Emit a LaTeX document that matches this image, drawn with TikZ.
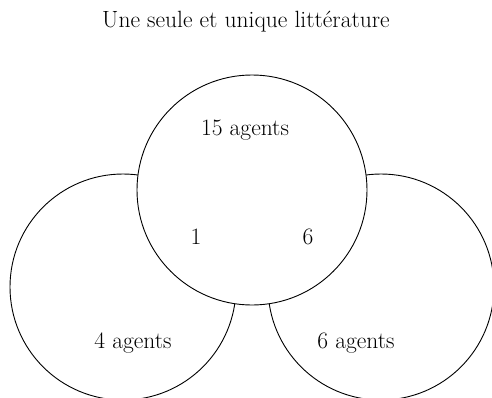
\documentclass[tikz,border=0pt]{standalone}
\usepackage{tikz}
\begin{document}
\begin{tikzpicture}[x=1pt,y=-1pt,
  ring/.style={circle,draw=black,line width=0.9pt,inner sep=0pt,fill=white},
  lab/.style={font=\fontsize{23.5}{28}\selectfont,inner sep=0pt}]
\useasboundingbox (0,0) rectangle (492,397);
\clip (0,0) rectangle (492,397);
\node[ring,minimum size=226pt] (L) at (123,287) {};
\node[ring,minimum size=226pt] (R) at (381,287) {};
\node[ring,minimum size=230pt] (T) at (252,190) {};
\node[lab] (title) at (246,22) {Une seule et unique littérature};
\node[lab] (t15) at (245,130) {15 agents};
\node[lab] (i1) at (196,237) {1};
\node[lab] (i6) at (308,237) {6};
\node[lab] (l4) at (133,343) {4 agents};
\node[lab] (r6) at (356,343) {6 agents};
\end{tikzpicture}
\end{document}
